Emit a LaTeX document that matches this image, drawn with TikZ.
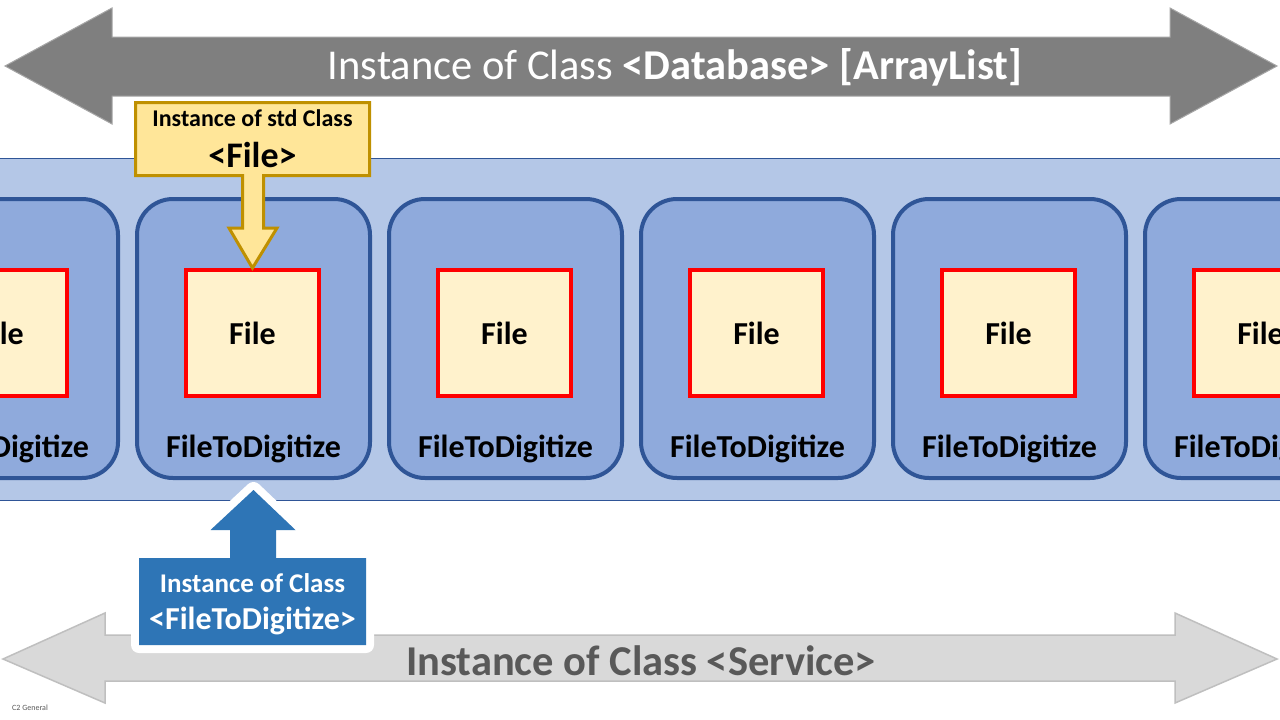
\documentclass[tikz,border=0pt]{standalone}
\usepackage{fontspec}
\setmainfont{Carlito}
\usetikzlibrary{calc,positioning}
\definecolor{arrdark}{HTML}{7F7F7F}
\definecolor{arrdarkedge}{HTML}{A6A6A6}
\definecolor{bandfill}{HTML}{B4C7E7}
\definecolor{boxline}{HTML}{2F5597}
\definecolor{boxfill}{HTML}{8FAADC}
\definecolor{filefill}{HTML}{FFF2CC}
\definecolor{fileline}{HTML}{FF0000}
\definecolor{stdfill}{HTML}{FFE699}
\definecolor{stdline}{HTML}{BF9000}
\definecolor{clsfill}{HTML}{2E75B6}
\definecolor{svcfill}{HTML}{D9D9D9}
\definecolor{svcline}{HTML}{BFBFBF}
\definecolor{svctext}{HTML}{595959}

\begin{document}
\begin{tikzpicture}[x=1pt,y=-1pt,
  ftdbox/.style={draw=boxline,fill=boxfill,line width=4pt,rounded corners=36pt,
                 minimum width=233pt,minimum height=279pt,inner sep=0pt},
  filebox/.style={draw=fileline,fill=filefill,line width=4pt,minimum width=133pt,
                  minimum height=126pt,inner sep=0pt,font=\fontsize{32}{34}\selectfont\bfseries},
  ftdlabel/.style={font=\fontsize{32}{34}\selectfont\bfseries,inner sep=0pt},
  callY/.style={draw=stdline,fill=stdfill,line width=3pt,line join=miter},
  callB/.style={fill=clsfill,preaction={draw=white,line width=16pt,line join=round}},
  bigarrow/.style={fill=arrdark,draw=arrdarkedge,line width=1pt},
  svcarrow/.style={fill=svcfill,draw=svcline,line width=1.5pt}]

\useasboundingbox (0,0) rectangle (1280,720);
\clip (0,0) rectangle (1280,720);
\fill[white] (0,0) rectangle (1280,720);

% database arrow
\draw[bigarrow] (5,66) -- (112,8) -- (112,37) -- (1170,37) -- (1170,8) -- (1277,66)
  -- (1170,124) -- (1170,96) -- (112,96) -- (112,124) -- cycle;
\node[text=white,font=\fontsize{42.5}{44}\selectfont] (dbtitle) at (675,67)
  {Instance of Class \textbf{<Database> [ArrayList]}};

% list band
\fill[bandfill] (-5,158) rectangle (1285,500);
\draw[boxline,line width=1pt] (-5,158) -- (1285,158) (-5,500) -- (1285,500);

\foreach \i in {1,...,6} {
  \node[ftdbox] (ftd\i) at ({1.5+252*(\i-1)},338.5) {};
  \node[filebox] (file\i) at ($(ftd\i)+(-1,-5.5)$) {File};
  \node[ftdlabel] (ftdlbl\i) at ($(ftd\i.south)+(0,-31)$) {FileToDigitize};
}

% std class callout
\draw[callY] (135.5,102.5) -- (369.5,102.5) -- (369.5,175.5) -- (263.5,175.5)
  -- (263.5,228) -- (277,228) -- (file2.north) -- (229,228) -- (242.5,228)
  -- (242.5,175.5) -- (135.5,175.5) -- cycle;
\node[align=center,inner sep=0pt] (stdcls) at (252.5,138.5)
  {{\fontsize{24}{26}\selectfont\bfseries Instance of std Class}\\[15pt]
   {\fontsize{36}{38}\selectfont\bfseries <File>}};

% service arrow
\draw[svcarrow] (3,659) -- (105,613) -- (105,635) -- (1175,635) -- (1175,613) -- (1277,659)
  -- (1175,703) -- (1175,681) -- (105,681) -- (105,703) -- cycle;
\node[text=svctext,font=\fontsize{42.5}{44}\selectfont\bfseries] (svctitle) at (641,661)
  {Instance of Class <Service>};

% class callout
\path[callB] (139,558) -- (230,558) -- (230,530) -- (210.5,530) -- ($(ftd2.south)+(0,10)$)
  -- (295.5,530) -- (276,530) -- (276,558) -- (366,558) -- (366,645) -- (139,645) -- cycle;
\node[align=center,text=white,inner sep=0pt] (ftdcls) at (252.5,604)
  {{\fontsize{27}{29}\selectfont\bfseries Instance of Class}\\[13pt]
   {\fontsize{32}{34}\selectfont\bfseries <FileToDigitize>}};

\node[text=svctext,font=\fontsize{8}{9}\selectfont,anchor=west,inner sep=0pt] (tag) at (12,708) {C2 General};
\end{tikzpicture}
\end{document}
